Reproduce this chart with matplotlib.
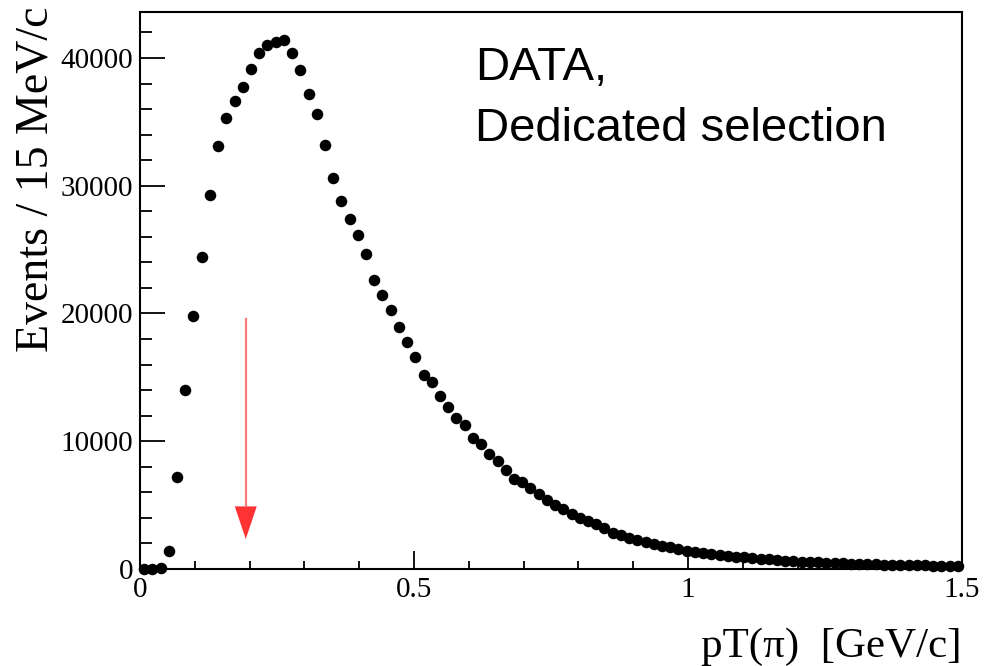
import matplotlib
matplotlib.use("Agg")
import matplotlib.pyplot as plt
import numpy as np
from matplotlib.patches import Polygon
from matplotlib.ticker import MultipleLocator

# ---- data ----
bin_width = 0.015  # GeV/c
x_min, x_max = 0.0, 1.5
events = [
    0, 20, 80, 1380, 7200, 14030, 19840, 24460, 29290, 33120,
    35290, 36670, 37760, 39170, 40380, 41030, 41240, 41390, 40380, 39050,
    37190, 35600, 33170, 30630, 28820, 27410, 26160, 24670, 22640, 21440,
    20270, 18910, 17730, 16560, 15200, 14630, 13560, 12680, 11820, 11240,
    10250, 9750, 9000, 8420, 7720, 7070, 6780, 6310, 5840, 5400,
    4980, 4720, 4270, 3960, 3760, 3490, 3180, 2820, 2660, 2450,
    2240, 2080, 1960, 1800, 1720, 1560, 1430, 1330, 1250, 1180,
    1100, 1030, 970, 910, 850, 800, 750, 700, 660, 620,
    580, 550, 520, 490, 460, 440, 420, 400, 380, 360,
    345, 330, 315, 300, 290, 280, 270, 260, 250, 240,
]
cut_value = 0.193        # GeV/c, position of the red arrow
arrow_top = 19560
arrow_tip = 2350
arrow_head_top = 4900

x_ticks = [0, 0.5, 1, 1.5]
x_ticklabels = ["0", "0.5", "1", "1.5"]
y_ticks = [0, 10000, 20000, 30000, 40000]
y_ticklabels = ["0", "10000", "20000", "30000", "40000"]
y_max = 43600

text_lines = ["DATA,", "Dedicated selection"]
y_title = "Events / 15 MeV/c"
x_title = "pT(\u03c0)  [GeV/c]"

# ---- figure ----
W, H = 993, 666
fig = plt.figure(figsize=(W / 100, H / 100), dpi=100)
left, right, bottom, top = 140, 962, 569, 12
ax = fig.add_axes([left / W, (H - bottom) / H, (right - left) / W, (bottom - top) / H])

centers = x_min + bin_width * (np.arange(len(events)) + 0.5)
ax.plot(centers, events, linestyle="none", marker="o", ms=8.3,
        color="black", markeredgewidth=0, clip_on=False)

ax.set_xlim(x_min, x_max)
ax.set_ylim(0, y_max)

serif = ["Liberation Serif", "DejaVu Serif"]
ax.set_xticks(x_ticks)
ax.set_xticklabels(x_ticklabels, fontfamily=serif, fontsize=21)
ax.set_yticks(y_ticks)
ax.set_yticklabels(y_ticklabels, fontfamily=serif, fontsize=21)
ax.xaxis.set_minor_locator(MultipleLocator(0.1))
ax.yaxis.set_minor_locator(MultipleLocator(2000))

ax.tick_params(axis="y", which="major", direction="in", length=18, width=1.3, pad=5)
ax.tick_params(axis="y", which="minor", direction="in", length=8.6, width=1.3)
ax.tick_params(axis="x", which="major", direction="in", length=13, width=1.3, pad=6)
ax.tick_params(axis="x", which="minor", direction="in", length=5.8, width=1.3)
ax.tick_params(top=False, right=False, which="both")
for s in ax.spines.values():
    s.set_linewidth(1.5)
    s.set_color("black")

# red arrow
ax.plot([cut_value, cut_value], [arrow_top, arrow_head_top], color="#ff7a7a", lw=1.6)
hw = 11 / 548  # half head width in data units (x axis scale)
ax.add_patch(Polygon([(cut_value - hw, arrow_head_top), (cut_value + hw, arrow_head_top),
                      (cut_value, arrow_tip)], closed=True, color="#ff3333", lw=0))

# text
sans = ["Liberation Sans", "DejaVu Sans"]
fig.text(475 / W, (H - 80) / H, text_lines[0], fontsize=34, fontfamily=sans,
         ha="left", va="baseline")
fig.text(475 / W, (H - 140.7) / H, text_lines[1], fontsize=34, fontfamily=sans,
         ha="left", va="baseline")

fig.text(36 / W, (H - 352) / H, y_title, rotation=90, fontsize=33,
         fontfamily=serif, ha="center", va="bottom")
fig.text(962 / W, (H - 657) / H, x_title, fontsize=31, fontfamily=serif,
         ha="right", va="baseline")

fig.savefig("out.png", dpi=100, facecolor="white")
